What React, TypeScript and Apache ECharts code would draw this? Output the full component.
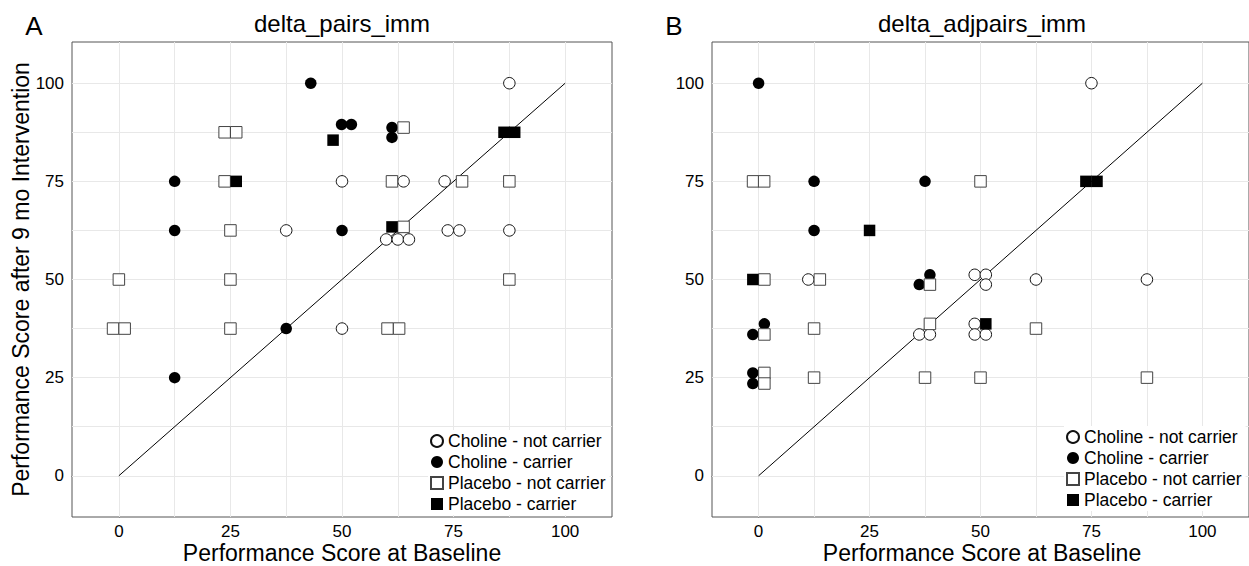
import React, { useEffect, useRef } from "react";
import * as echarts from "echarts";

// ---------- data ----------
const panelTitles = ["delta_pairs_imm", "delta_adjpairs_imm"];
const panelLetters = ["A", "B"];
const xAxisTitle = "Performance Score at Baseline";
const yAxisTitle = "Performance Score after 9 mo Intervention";
const groupNames = [
  "Choline - not carrier",
  "Choline - carrier",
  "Placebo - not carrier",
  "Placebo - carrier",
];
const tickValues = [0, 25, 50, 75, 100];
const gridValues = [0, 12.5, 25, 37.5, 50, 62.5, 75, 87.5, 100];
const identityLine = [
  [0, 0],
  [100, 100],
];

// Panel A: delta_pairs_imm  [baseline, after 9 mo]
const cholineNotCarrierA = [
  [87.5, 100], [50, 75], [63.8, 75], [73, 75], [37.5, 62.5], [73.7, 62.5],
  [76.3, 62.5], [87.5, 62.5], [59.9, 60.2], [62.5, 60.2], [65, 60.2], [50, 37.5],
];
const cholineCarrierA = [
  [43, 100], [49.9, 89.5], [52.1, 89.5], [61.2, 88.7], [61.2, 86.2], [12.5, 75],
  [12.5, 62.5], [50, 62.5], [37.5, 37.5], [12.5, 25],
];
const placeboNotCarrierA = [
  [23.7, 87.5], [26.3, 87.5], [63.8, 88.7], [23.7, 75], [61.2, 75], [76.9, 75],
  [87.5, 75], [25, 62.5], [63.8, 63.4], [0, 50], [25, 50], [87.5, 50],
  [-1.3, 37.5], [1.3, 37.5], [25, 37.5], [60.2, 37.5], [62.8, 37.5],
];
const placeboCarrierA = [
  [48, 85.5], [26.3, 75], [61.2, 63.4], [86.3, 87.5], [88.7, 87.5],
];

// Panel B: delta_adjpairs_imm
const cholineNotCarrierB = [
  [75, 100], [48.7, 51.2], [51.2, 51.2], [51.2, 48.7], [11.2, 50], [62.5, 50],
  [87.5, 50], [36.2, 36.0], [38.6, 36.0], [48.7, 38.7], [48.7, 36.0], [51.2, 36.0],
];
const cholineCarrierB = [
  [0, 100], [12.5, 75], [37.5, 75], [12.5, 62.5], [36.2, 48.7], [38.6, 51.2],
  [-1.3, 36.0], [1.3, 38.7], [-1.3, 26.2], [-1.3, 23.5],
];
const placeboNotCarrierB = [
  [-1.25, 75], [1.25, 75], [50, 75], [1.3, 50], [13.8, 50], [38.6, 48.7],
  [1.3, 36.0], [12.5, 37.5], [38.6, 38.7], [62.5, 37.5], [1.3, 26.2], [1.3, 23.5],
  [12.5, 25], [37.5, 25], [50, 25], [87.5, 25],
];
const placeboCarrierB = [
  [25, 62.5], [-1.3, 50], [51.2, 38.7], [73.75, 75], [76.25, 75],
];

const panelData = [
  [cholineNotCarrierA, cholineCarrierA, placeboNotCarrierA, placeboCarrierA],
  [cholineNotCarrierB, cholineCarrierB, placeboNotCarrierB, placeboCarrierB],
];

// ---------- styles ----------
const FONT = "'Liberation Sans', Arial, Helvetica, sans-serif";
const groupStyles = [
  { symbol: "circle", itemStyle: { color: "#ffffff", borderColor: "#111111", borderWidth: 1, opacity: 1 } },
  { symbol: "circle", itemStyle: { color: "#000000", borderColor: "#000000", borderWidth: 0, opacity: 1 } },
  { symbol: "rect", itemStyle: { color: "#ffffff", borderColor: "#444444", borderWidth: 1, opacity: 1 } },
  { symbol: "rect", itemStyle: { color: "#000000", borderColor: "#000000", borderWidth: 0, opacity: 1 } },
];
const grids = [
  { left: 72, top: 42, width: 540, height: 475 },
  { left: 712, top: 42, width: 540, height: 475 },
];
const legendPos = [
  { left: 428, top: 430 },
  { left: 1064, top: 426 },
];

function buildOption() {
  const series: any[] = [];
  panelData.forEach((groups, p) => {
    series.push({
      type: "line",
      name: "identity" + p,
      xAxisIndex: p,
      yAxisIndex: p,
      data: identityLine,
      symbol: "none",
      lineStyle: { color: "#000", width: 1 },
      z: 2,
      silent: true,
      markLine: {
        silent: true,
        z: 1,
        symbol: ["none", "none"],
        label: { show: false },
        emphasis: { disabled: true },
        lineStyle: { color: "#e8e8e8", width: 1, type: "solid" },
        data: [
          ...gridValues.map((v) => ({ xAxis: v })),
          ...gridValues.map((v) => ({ yAxis: v })),
        ],
      },
    });
    groups.forEach((pts, g) => {
      series.push({
        type: "scatter",
        name: groupNames[g],
        xAxisIndex: p,
        yAxisIndex: p,
        data: pts,
        symbol: groupStyles[g].symbol,
        symbolSize: 11.5,
        itemStyle: groupStyles[g].itemStyle,
        emphasis: { disabled: true },
        z: 3,
      });
    });
  });

  const axisText = { fontSize: 17, color: "#000", fontFamily: FONT };

  return {
    animation: false,
    backgroundColor: "#ffffff",
    textStyle: { fontFamily: FONT },
    grid: grids.map((g) => ({
      ...g,
      show: true,
      borderColor: "#555555",
      borderWidth: 1,
      backgroundColor: "transparent",
      containLabel: false,
    })),
    xAxis: grids.map((_, i) => ({
      type: "value",
      gridIndex: i,
      min: -10.5,
      max: 110.5,
      axisLine: { show: true, lineStyle: { color: "#555555", width: 1 } },
      axisTick: { show: true, length: 4, customValues: tickValues, lineStyle: { color: "#333" } },
      axisLabel: { customValues: tickValues, margin: 6, ...axisText },
      splitLine: { show: false },
    })),
    yAxis: grids.map((_, i) => ({
      type: "value",
      gridIndex: i,
      min: -10.5,
      max: 110.5,
      axisLine: { show: true, lineStyle: { color: "#555555", width: 1 } },
      axisTick: { show: true, length: 4, customValues: tickValues, lineStyle: { color: "#333" } },
      axisLabel: { customValues: tickValues, margin: 8, ...axisText },
      splitLine: { show: false },
    })),
    legend: legendPos.map((pos) => ({
      ...pos,
      orient: "vertical",
      data: groupNames.map((name) => ({ name })),
      itemWidth: 12,
      itemHeight: 12,
      itemGap: 3,
      padding: [2, 4, 2, 2],
      backgroundColor: "#ffffff",
      selectedMode: false,
      textStyle: { fontSize: 17.5, lineHeight: 18, color: "#000", fontFamily: FONT },
    })),
    graphic: [
      ...panelLetters.map((t, i) => ({
        type: "text",
        x: grids[i].left - 38,
        y: 26,
        style: { text: t, fontSize: 26, fill: "#000", fontFamily: FONT, align: "center", verticalAlign: "middle" },
        z: 10,
      })),
      ...panelTitles.map((t, i) => ({
        type: "text",
        x: grids[i].left + grids[i].width / 2,
        y: 23,
        style: { text: t, fontSize: 24, fill: "#000", fontFamily: FONT, align: "center", verticalAlign: "middle" },
        z: 10,
      })),
      ...grids.map((g) => ({
        type: "text",
        x: g.left + g.width / 2,
        y: 553,
        style: { text: xAxisTitle, fontSize: 23, fill: "#000", fontFamily: FONT, align: "center", verticalAlign: "middle" },
        z: 10,
      })),
      {
        type: "text",
        x: 21,
        y: grids[0].top + grids[0].height / 2,
        rotation: Math.PI / 2,
        style: { text: yAxisTitle, fontSize: 23, fill: "#000", fontFamily: FONT, align: "center", verticalAlign: "middle" },
        z: 10,
      },
    ],
    series,
  };
}

export default function App() {
  const ref = useRef<HTMLDivElement>(null);
  useEffect(() => {
    if (!ref.current) return;
    const chart = echarts.init(ref.current, null, { renderer: "svg" });
    chart.setOption(buildOption() as any);
    return () => chart.dispose();
  }, []);
  return (
    <div
      ref={ref}
      style={{ position: "absolute", left: 0, top: 0, width: 1249, height: 566, background: "#fff" }}
    />
  );
}
